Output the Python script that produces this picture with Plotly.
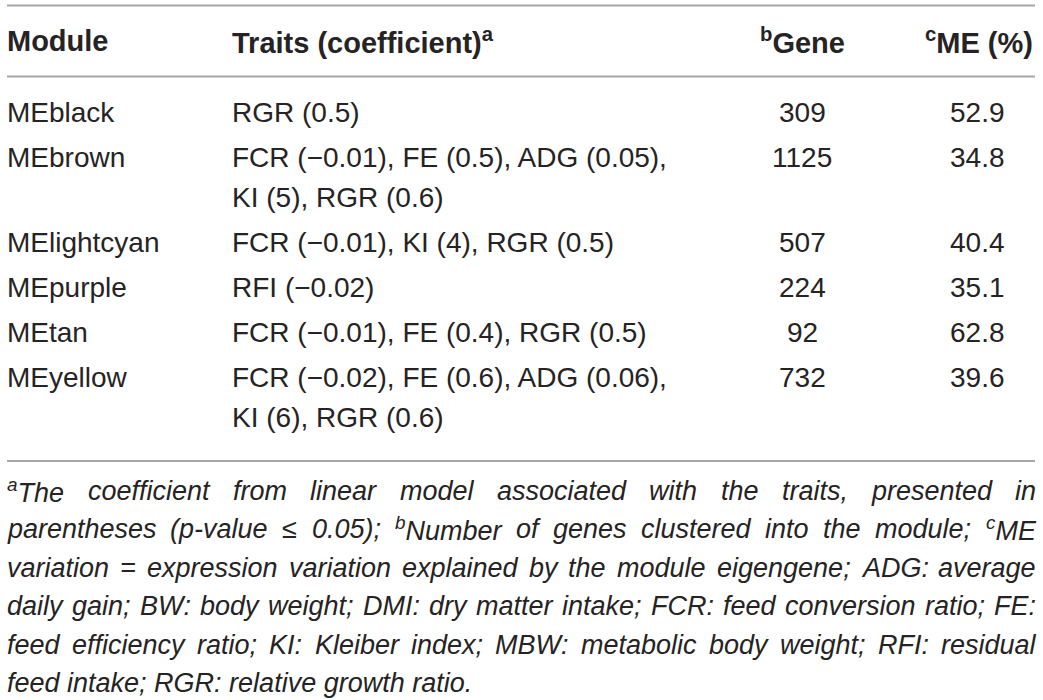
import re
import plotly.graph_objects as go

W, H = 1043, 700

# ── table content ─────────────────────────────────────────────────────────────
headers = ["Module", "Traits (coefficient)<sup>a</sup>", "<sup>b</sup>Gene", "<sup>c</sup>ME (%)"]

modules = ["MEblack", "MEbrown", "MElightcyan", "MEpurple", "MEtan", "MEyellow"]
traits = [
    ["RGR (0.5)"],
    ["FCR (−0.01), FE (0.5), ADG (0.05),", "KI (5), RGR (0.6)"],
    ["FCR (−0.01), KI (4), RGR (0.5)"],
    ["RFI (−0.02)"],
    ["FCR (−0.01), FE (0.4), RGR (0.5)"],
    ["FCR (−0.02), FE (0.6), ADG (0.06),", "KI (6), RGR (0.6)"],
]
genes = [309, 1125, 507, 224, 92, 732]
me_pct = [52.9, 34.8, 40.4, 35.1, 62.8, 39.6]

footnote = [
    "<sup>a</sup>The coefficient from linear model associated with the traits, presented in",
    "parentheses (p-value ≤ 0.05); <sup>b</sup>Number of genes clustered into the module; <sup>c</sup>ME",
    "variation = expression variation explained by the module eigengene; ADG: average",
    "daily gain; BW: body weight; DMI: dry matter intake; FCR: feed conversion ratio; FE:",
    "feed efficiency ratio; KI: Kleiber index; MBW: metabolic body weight; RFI: residual",
    "feed intake; RGR: relative growth ratio.",
]

# ── layout constants ──────────────────────────────────────────────────────────
TXT = "#262324"
RULE = "#a6a6a6"
FONT = "Liberation Sans, Arial, sans-serif"
BODY_SIZE = 28
HEAD_SIZE = 29
FOOT_SIZE = 27

X_LEFT, X_RIGHT = 7, 1035
X_MODULE, X_TRAITS, X_GENE, X_ME = 6, 231, 802, 977
X_ME_HEAD_R = 1034
Y_HEAD = 41
Y_FIRST = 112
LINE_H = 40
ROW_GAP = 5
RULES_Y = [5.5, 76.5, 461]
FOOT_Y0 = 490.5
FOOT_H = 38.5

# Arial / Liberation Sans advance widths (1/1000 em), used to justify the footnote
ARIAL = {
    " ": 278, "(": 333, ")": 333, ",": 278, "-": 333, ".": 278, ":": 278, ";": 278,
    "=": 584, "≤": 549, "0": 556, "1": 556, "2": 556, "3": 556, "4": 556, "5": 556,
    "6": 556, "7": 556, "8": 556, "9": 556,
    "A": 667, "B": 667, "C": 722, "D": 722, "E": 667, "F": 611, "G": 778, "H": 722,
    "I": 278, "J": 500, "K": 667, "L": 556, "M": 833, "N": 722, "O": 778, "P": 667,
    "Q": 778, "R": 722, "S": 667, "T": 611, "U": 722, "V": 667, "W": 944, "X": 667,
    "Y": 667, "Z": 611,
    "a": 556, "b": 556, "c": 500, "d": 556, "e": 556, "f": 278, "g": 556, "h": 556,
    "i": 222, "j": 222, "k": 500, "l": 222, "m": 833, "n": 556, "o": 556, "p": 556,
    "q": 556, "r": 333, "s": 500, "t": 278, "u": 556, "v": 500, "w": 722, "x": 500,
    "y": 500, "z": 500,
}


def word_width(word, size):
    w = 0.0
    for part in re.split(r"(<sup>.*?</sup>)", word):
        sup = part.startswith("<sup>")
        plain = re.sub(r"</?sup>", "", part)
        for ch in plain:
            w += ARIAL.get(ch, 556) * size * (0.7 if sup else 1.0) / 1000
    return w


fig = go.Figure()
annotations = []


def add_text(x, y, text, anchor="left", bold=False, size=BODY_SIZE, italic=False):
    annotations.append(dict(
        x=x, y=y, xref="x", yref="y", text=text, showarrow=False,
        xanchor=anchor, yanchor="middle", borderpad=0,
        font=dict(family=FONT, size=size, color=TXT,
                  weight="bold" if bold else "normal",
                  style="italic" if italic else "normal"),
    ))


# header
add_text(X_MODULE, Y_HEAD, headers[0], bold=True, size=HEAD_SIZE)
add_text(X_TRAITS, Y_HEAD, headers[1], bold=True, size=HEAD_SIZE)
add_text(X_GENE, Y_HEAD, headers[2], anchor="center", bold=True, size=HEAD_SIZE)
add_text(X_ME_HEAD_R, Y_HEAD, headers[3], anchor="right", bold=True, size=HEAD_SIZE)

# body rows
y = Y_FIRST
for mod, tr, g, me in zip(modules, traits, genes, me_pct):
    add_text(X_MODULE, y, mod)
    add_text(X_GENE, y, str(g), anchor="center")
    add_text(X_ME, y, f"{me:.1f}", anchor="center")
    for k, line in enumerate(tr):
        add_text(X_TRAITS, y + k * LINE_H, line)
    y += len(tr) * LINE_H + ROW_GAP

# footnote, justified except last line
for i, line in enumerate(footnote):
    fy = FOOT_Y0 + i * FOOT_H
    if i == len(footnote) - 1:
        add_text(X_MODULE, fy, line, size=FOOT_SIZE, italic=True)
        continue
    words = line.split(" ")
    widths = [word_width(w, FOOT_SIZE) for w in words]
    gap = (X_RIGHT - X_MODULE - sum(widths)) / (len(words) - 1)
    x = X_MODULE
    for w, ww in zip(words, widths):
        add_text(x, fy, w, size=FOOT_SIZE, italic=True)
        x += ww + gap

# horizontal rules
for ry in RULES_Y:
    fig.add_trace(go.Scatter(
        x=[X_LEFT, X_RIGHT], y=[ry, ry], mode="lines",
        line=dict(color=RULE, width=2), hoverinfo="skip", showlegend=False,
    ))

fig.update_layout(
    width=W, height=H,
    margin=dict(l=0, r=0, t=0, b=0),
    paper_bgcolor="white", plot_bgcolor="white",
    annotations=annotations,
    showlegend=False,
)
fig.update_xaxes(range=[0, W], visible=False, fixedrange=True)
fig.update_yaxes(range=[H, 0], visible=False, fixedrange=True)

# drop the page's default body margin so the figure fills the window
fig.write_html("out.html", config={"displayModeBar": False},
               post_script="document.body.style.margin='0';")
